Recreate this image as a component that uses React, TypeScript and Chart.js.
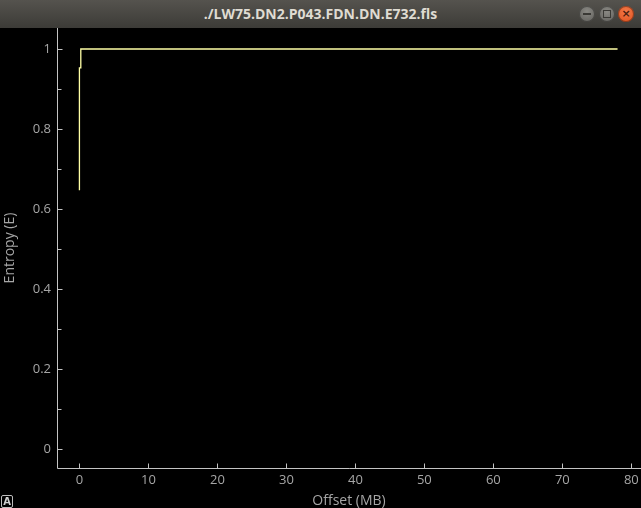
import React, { useEffect, useRef } from 'react';
import { Chart, registerables } from 'chart.js';

Chart.register(...registerables);

const WINDOW_TITLE = './LW75.DN2.P043.FDN.DN.E732.fls';
const X_LABEL = 'Offset (MB)';
const Y_LABEL = 'Entropy (E)';

// data (offset in MB, entropy)
const offsetsMB = [0, 0, 0.2, 0.2, 78];
const entropy = [0.647, 0.953, 0.953, 1.0, 1.0];

const xTicks = [0, 10, 20, 30, 40, 50, 60, 70, 80];
const yTicks = [0, 0.2, 0.4, 0.6, 0.8, 1];
const yMinorTicks = [0.1, 0.3, 0.5, 0.7, 0.9];

const X_MIN = -3.25;
const X_MAX = 81.4;
const Y_MIN = -0.0475;
const Y_MAX = 1.0525;

const AXIS_COLOR = '#c4c4c4';
const TEXT_COLOR = '#a6a6a6';
const LINE_COLOR = '#ffffa6';
const FONT = '"Open Sans", "DejaVu Sans", sans-serif';

const axesPlugin = {
  id: 'pgAxes',
  afterDraw(chart: any) {
    const { ctx, chartArea, scales } = chart;
    const xs = scales.x;
    const ys = scales.y;
    ctx.save();
    ctx.strokeStyle = AXIS_COLOR;
    ctx.lineWidth = 1;
    ctx.beginPath();
    const lx = Math.round(chartArea.left) + 0.5;
    const by = Math.round(chartArea.bottom) + 0.5;
    ctx.moveTo(lx, chartArea.top);
    ctx.lineTo(lx, by);
    ctx.lineTo(chartArea.right, by);
    yTicks.forEach((v) => {
      const py = Math.round(ys.getPixelForValue(v)) + 0.5;
      ctx.moveTo(lx, py);
      ctx.lineTo(lx + 5, py);
    });
    yMinorTicks.forEach((v) => {
      const py = Math.round(ys.getPixelForValue(v)) + 0.5;
      ctx.moveTo(lx, py);
      ctx.lineTo(lx + 4, py);
    });
    xTicks.forEach((v) => {
      const px = Math.round(xs.getPixelForValue(v)) + 0.5;
      ctx.moveTo(px, by);
      ctx.lineTo(px, by - 5);
    });
    ctx.stroke();
    ctx.restore();
  },
};

function TitleBar() {
  const btn = (bg: string, content: React.ReactNode, left: number) => (
    <div
      style={{
        position: 'absolute',
        left: left - 8,
        top: 6,
        width: 16,
        height: 16,
        borderRadius: 8,
        background: bg,
        boxShadow: 'inset 0 0 0 1px rgba(0,0,0,0.35)',
        display: 'flex',
        alignItems: 'center',
        justifyContent: 'center',
      }}
    >
      {content}
    </div>
  );
  return (
    <div
      style={{
        position: 'absolute',
        left: 0,
        top: 0,
        width: 641,
        height: 28,
        background: 'linear-gradient(#55534e, #3c3b37)',
        color: '#dfdbd2',
        fontFamily: '"Open Sans", "DejaVu Sans", sans-serif',
        fontWeight: 700,
        fontSize: 14,
        lineHeight: '28px',
        textAlign: 'center',
      }}
    >
      <span style={{ position: 'absolute', left: 0, width: 641, top: 0, textAlign: 'center' }}>{WINDOW_TITLE}</span>
      {btn('radial-gradient(circle at 50% 35%, #8a8984, #5e5d59)', <div style={{ width: 8, height: 2, background: '#3a3935' }} />, 587)}
      {btn('radial-gradient(circle at 50% 35%, #8a8984, #5e5d59)', <div style={{ width: 6, height: 6, border: '1.5px solid #3a3935' }} />, 607)}
      {btn(
        'radial-gradient(circle at 50% 35%, #f37a4a, #e0501c)',
        <span style={{ color: '#4a2010', fontSize: 11, lineHeight: '16px', fontWeight: 700, fontFamily: 'DejaVu Sans, sans-serif' }}>×</span>,
        626
      )}
    </div>
  );
}

export default function App() {
  const canvasRef = useRef<HTMLCanvasElement | null>(null);

  useEffect(() => {
    const canvas = canvasRef.current;
    if (!canvas) return;
    const points = offsetsMB.map((x, i) => ({ x, y: entropy[i] }));
    const chart = new Chart(canvas, {
      type: 'line',
      data: {
        datasets: [
          {
            data: points,
            borderColor: LINE_COLOR,
            borderWidth: 1.3,
            pointRadius: 0,
            tension: 0,
            fill: false,
          },
        ],
      },
      options: {
        animation: false,
        responsive: false,
        maintainAspectRatio: false,
        layout: { padding: 0 },
        plugins: { legend: { display: false }, tooltip: { enabled: false } },
        scales: {
          x: {
            type: 'linear',
            position: 'bottom',
            min: X_MIN,
            max: X_MAX,
            afterBuildTicks: (s: any) => {
              s.ticks = xTicks.map((v) => ({ value: v }));
            },
            afterFit: (s: any) => {
              s.height = 40;
              s.paddingLeft = 0;
              s.paddingRight = 0;
              s.paddingTop = 0;
              s.paddingBottom = 0;
            },
            grid: { display: false, drawTicks: false },
            border: { display: false },
            ticks: {
              color: TEXT_COLOR,
              font: { family: FONT, size: 13 },
              padding: 4,
              maxRotation: 0,
              autoSkip: false,
              callback: (v: any) => String(v),
            },
            title: {
              display: true,
              text: X_LABEL,
              color: TEXT_COLOR,
              font: { family: FONT, size: 14 },
              padding: { top: 0, bottom: -1 },
            },
          },
          y: {
            type: 'linear',
            position: 'left',
            min: Y_MIN,
            max: Y_MAX,
            afterBuildTicks: (s: any) => {
              s.ticks = yTicks.map((v) => ({ value: v }));
            },
            afterFit: (s: any) => {
              s.width = 57;
              s.paddingTop = 0;
              s.paddingBottom = 0;
              s.paddingLeft = 0;
              s.paddingRight = 0;
            },
            grid: { display: false, drawTicks: false },
            border: { display: false },
            ticks: {
              color: TEXT_COLOR,
              font: { family: FONT, size: 13 },
              padding: 6,
              autoSkip: false,
              callback: (v: any) => String(Math.round(v * 10) / 10),
            },
            title: {
              display: true,
              text: Y_LABEL,
              color: TEXT_COLOR,
              font: { family: FONT, size: 14 },
              padding: { top: 2, bottom: 0 },
            },
          },
        },
      },
      plugins: [axesPlugin],
    });
    return () => chart.destroy();
  }, []);

  return (
    <div style={{ position: 'fixed', left: 0, top: 0, width: 641, height: 508, background: '#000', overflow: 'hidden' }}>
      <TitleBar />
      <div style={{ position: 'absolute', left: 0, top: 28, width: 641, height: 480 }}>
        <canvas ref={canvasRef} width={641} height={480} style={{ width: 641, height: 480, display: 'block' }} />
      </div>
      <div
        style={{
          position: 'absolute',
          left: 1,
          top: 495,
          width: 10,
          height: 11,
          border: '1px solid #bdbdbd',
          borderRadius: 2,
          color: '#d0d0d0',
          fontFamily: '"DejaVu Sans", sans-serif',
          fontSize: 10,
          fontWeight: 700,
          lineHeight: '11px',
          textAlign: 'center',
        }}
      >
        A
      </div>
    </div>
  );
}
